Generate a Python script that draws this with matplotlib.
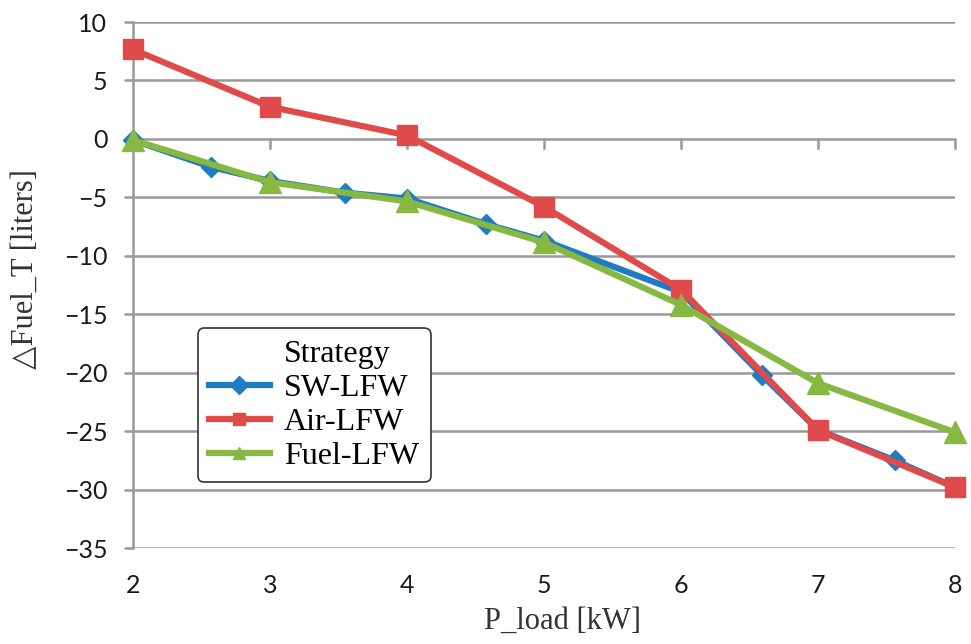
import matplotlib
matplotlib.use('Agg')
import matplotlib.pyplot as plt
from matplotlib.lines import Line2D

# data
sw_x = [2, 2.57, 3, 3.55, 4, 4.58, 5, 6, 6.59, 7, 7.56, 8]
sw_y = [-0.1, -2.4, -3.6, -4.6, -5.1, -7.3, -8.7, -13.1, -20.2, -24.9, -27.5, -29.8]
air_x = [2, 3, 4, 5, 6, 7, 8]
air_y = [7.65, 2.75, 0.3, -5.8, -12.9, -24.9, -29.8]
fuel_x = [2, 3, 4, 5, 6, 7, 8]
fuel_y = [-0.1, -3.7, -5.35, -8.85, -14.2, -20.9, -25.1]
yticks = [10, 5, 0, -5, -10, -15, -20, -25, -30, -35]
xticks = [2, 3, 4, 5, 6, 7, 8]

fig = plt.figure(figsize=(9.71, 6.44), dpi=100)
ax = fig.add_axes([0.137, 0.149, 0.8465, 0.8168])

l1, = ax.plot(sw_x, sw_y, color='#1f7bc2', lw=4.5, marker='D', ms=10, label='SW-LFW', zorder=3, clip_on=False)
l2, = ax.plot(air_x, air_y, color='#e04a4a', lw=4.5, marker='s', ms=15, label='Air-LFW', zorder=4, clip_on=False)
l3, = ax.plot(fuel_x, fuel_y, color='#86b842', lw=4.5, marker='^', ms=16, label='Fuel-LFW', zorder=5, clip_on=False)

ax.set_xlim(2, 8)
ax.set_ylim(-35, 10)
ax.set_yticks(yticks)
ax.set_xticks(xticks)
ax.set_yticklabels([str(v).replace('-', '\u2212') for v in yticks])

for v in yticks:
    ax.axhline(v, color='#999999', lw=1.8, zorder=1)

# x axis line sits at y=0 with tick marks hanging below it
for v in xticks[1:]:
    ax.plot([v, v], [0, -0.8], color='#999999', lw=1.8, zorder=1, clip_on=False)

for s in ['top', 'right', 'bottom']:
    ax.spines[s].set_visible(False)
ax.spines['left'].set_color('#999999')
ax.spines['left'].set_linewidth(1.8)
ax.spines['left'].set_zorder(1)
ax.tick_params(axis='y', length=6.5, width=1.8, color='#999999', pad=12,
               labelsize=18, labelcolor='#1a1a1a')
ax.tick_params(axis='x', length=0, pad=19, labelsize=18, labelcolor='#1a1a1a')
for lab in ax.get_xticklabels() + ax.get_yticklabels():
    lab.set_family('Lato')

ax.set_xlabel('P_load [kW]', family='Liberation Serif', fontsize=22, color='#333333')
ax.set_ylabel('\u25b3Fuel_T [liters]', family=['Liberation Serif', 'DejaVu Sans'],
              fontsize=22, color='#333333')
ax.xaxis.set_label_coords(0.523, -0.112)
ax.yaxis.set_label_coords(-0.113, 0.53)

# legend title drawn as a blank first entry so it lines up with the labels
blank = Line2D([], [], linestyle='none', marker='none')
leg = ax.legend([blank, l1, l2, l3], ['Strategy', 'SW-LFW', 'Air-LFW', 'Fuel-LFW'],
                loc='upper left', bbox_to_anchor=(0.079, 0.418),
                prop={'family': 'Liberation Serif', 'size': 23},
                frameon=True, fancybox=True, edgecolor='#333333', framealpha=1,
                handlelength=1.9, handletextpad=0.45, borderpad=0.35,
                labelspacing=0.15, borderaxespad=0)
leg.get_frame().set_linewidth(1.2)
leg.set_zorder(10)
for h in leg.legend_handles[1:]:
    h.set_markersize(9)

fig.savefig('out.png', dpi=100)
